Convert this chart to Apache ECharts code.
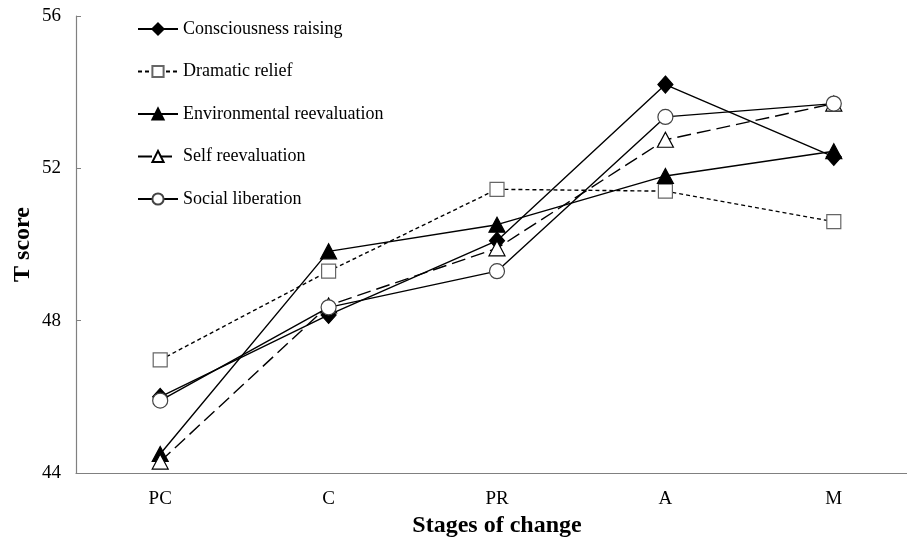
<!DOCTYPE html>
<html>
<head>
<meta charset="utf-8">
<script src="https://cdn.jsdelivr.net/npm/echarts@6/dist/echarts.min.js"></script>
<style>html,body{margin:0;padding:0;background:#fff}#c{width:907px;height:540px}</style>
</head>
<body>
<div id="c"></div>
<script>
var categories = ['PC', 'C', 'PR', 'A', 'M'];
var consciousnessRaising = [46.0, 48.15, 50.1, 54.2, 52.3];
var dramaticRelief = [46.97, 49.3, 51.45, 51.4, 50.6];
var environmentalReevaluation = [44.5, 49.82, 50.52, 51.8, 52.45];
var selfReevaluation = [44.3, 48.4, 49.9, 52.75, 53.7];
var socialLiberation = [45.9, 48.35, 49.3, 53.35, 53.7];
var seriesNames = ['Consciousness raising', 'Dramatic relief', 'Environmental reevaluation', 'Self reevaluation', 'Social liberation'];
var yTicks = [44, 48, 52, 56];

var font = 'Liberation Serif, Times New Roman, serif';
var chart = echarts.init(document.getElementById('c'), null, {renderer: 'canvas'});

function mk(name, data, symbol, size, filled, dash, borderColor) {
  return {
    name: name, type: 'line', data: data,
    symbol: symbol, symbolSize: size, showSymbol: true,
    lineStyle: {color: '#000', width: 1.4, type: dash},
    itemStyle: {color: filled ? '#000' : '#fff', borderColor: borderColor || '#000', borderWidth: 1.2},
    emphasis: {disabled: true},
    animation: false, z: 3
  };
}

chart.setOption({
  animation: false,
  backgroundColor: '#fff',
  grid: {left: 76, top: 16, width: 842, height: 457, containLabel: false, outerBoundsMode: 'none'},
  legend: {
    orient: 'vertical', left: 132, top: 15, itemGap: 24.5, itemWidth: 40, itemHeight: 14,
    textStyle: {fontFamily: font, fontSize: 18, color: '#000'},
    data: seriesNames
  },
  xAxis: {
    type: 'category', data: categories, boundaryGap: true,
    name: 'Stages of change', nameLocation: 'middle', nameGap: 35,
    nameTextStyle: {fontFamily: font, fontSize: 24, fontWeight: 'bold', color: '#000'},
    axisLine: {lineStyle: {color: '#808080', width: 1.2}},
    axisTick: {inside: true, length: 6, lineStyle: {color: '#808080'}},
    axisLabel: {fontFamily: font, fontSize: 19, color: '#000', margin: 17},
    splitLine: {show: false}
  },
  yAxis: {
    type: 'value', min: 44, max: 56, interval: 4,
    name: 'T score', nameLocation: 'middle', nameGap: 41, nameMoveOverlap: false,
    nameTextStyle: {fontFamily: font, fontSize: 24, fontWeight: 'bold', color: '#000'},
    axisLine: {show: true, lineStyle: {color: '#808080', width: 1.2}},
    axisTick: {show: true, inside: true, length: 5, lineStyle: {color: '#808080'}},
    axisLabel: {fontFamily: font, fontSize: 19, color: '#000', margin: 15,
      formatter: function (v) { return yTicks.indexOf(v) >= 0 ? String(v) : ''; }},
    splitLine: {show: false}
  },
  series: [
    mk(seriesNames[0], consciousnessRaising, 'diamond', [15, 17], true, 'solid'),
    mk(seriesNames[1], dramaticRelief, 'rect', 14, false, [4, 3], '#666'),
    mk(seriesNames[2], environmentalReevaluation, 'triangle', [16, 15], true, 'solid'),
    mk(seriesNames[3], selfReevaluation, 'triangle', [16, 15], false, [14, 6]),
    mk(seriesNames[4], socialLiberation, 'circle', 15, false, 'solid', '#444')
  ]
});
</script>
</body>
</html>
